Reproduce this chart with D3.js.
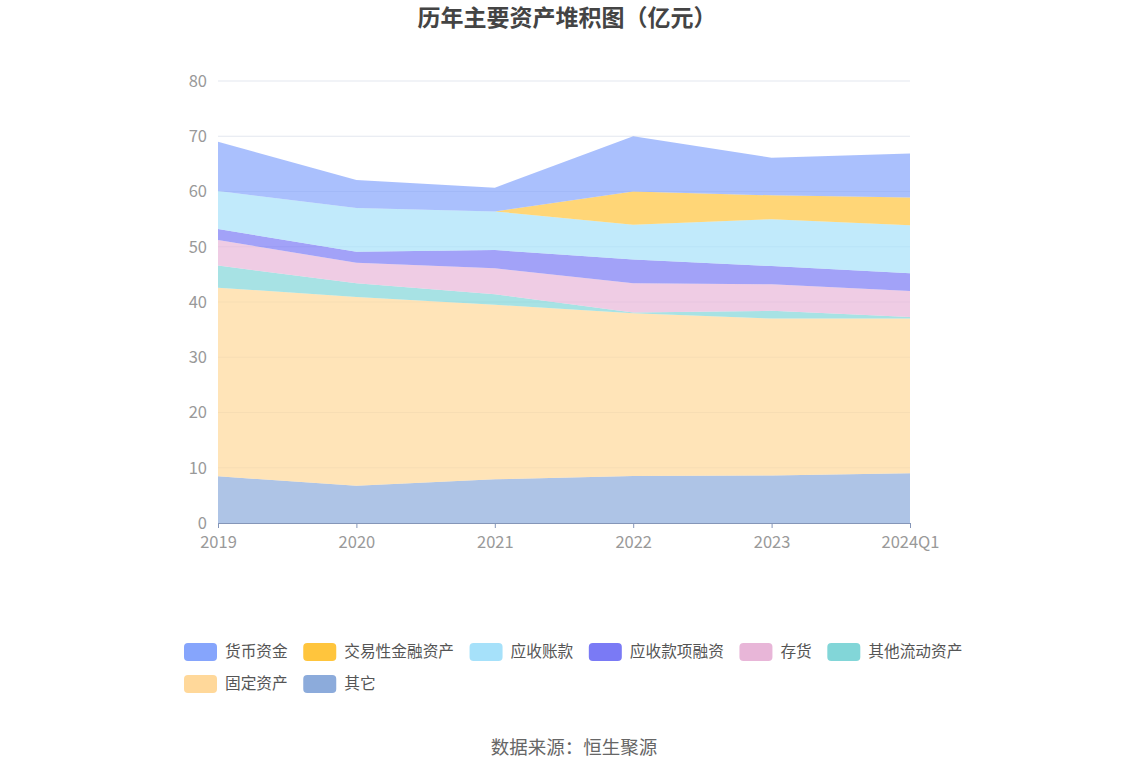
<!DOCTYPE html>
<html><head><meta charset="utf-8">
<script src="https://cdn.jsdelivr.net/npm/d3@7/dist/d3.min.js"></script>
<style>body{margin:0;background:#fff;font-family:"Noto Sans CJK SC","Noto Sans",sans-serif;}</style>
</head><body><svg id="c" width="1148" height="776"></svg>
<script>
const categories = ["2019","2020","2021","2022","2023","2024Q1"];
const seriesNames = ["货币资金","交易性金融资产","应收账款","应收款项融资","存货","其他流动资产","固定资产","其它"];
const colors = ["#86a5fc","#ffc53d","#a6e1fa","#7a7af5","#e8b6d8","#82d6d8","#ffd89a","#8cabdb"];
const 其它 = [8.45, 6.75, 7.9, 8.5, 8.6, 9.0];
const 固定资产 = [34.15, 34.15, 31.6, 29.45, 28.4, 28.0];
const 其他流动资产 = [4.0, 2.5, 1.9, 0.15, 1.4, 0.3];
const 存货 = [4.6, 3.7, 4.7, 5.3, 4.8, 4.7];
const 应收款项融资 = [2.0, 2.0, 3.3, 4.3, 3.3, 3.2];
const 应收账款 = [6.9, 7.9, 7.0, 6.3, 8.5, 8.7];
const 交易性金融资产 = [0, 0, 0, 6.0, 4.3, 5.0];
const 货币资金 = [8.9, 5.1, 4.3, 10.0, 6.8, 8.0];
const yTicks = [0,10,20,30,40,50,60,70,80];

const valuesByName = {"货币资金":货币资金,"交易性金融资产":交易性金融资产,"应收账款":应收账款,"应收款项融资":应收款项融资,"存货":存货,"其他流动资产":其他流动资产,"固定资产":固定资产,"其它":其它};
// stacking order bottom -> top
const stackOrder = ["其它","固定资产","其他流动资产","存货","应收款项融资","应收账款","交易性金融资产","货币资金"];
const rows = categories.map((c,i)=>{const r={cat:c}; seriesNames.forEach(n=>r[n]=valuesByName[n][i]); return r;});
const stacked = d3.stack().keys(stackOrder)(rows);

const svg = d3.select("#c");
const L=218, R=910, T=81, B=523;
const x = d3.scalePoint().domain(categories).range([L,R]);
const y = d3.scaleLinear().domain([0,80]).range([B,T]);

// grid
svg.append("g").selectAll("line").data(yTicks.filter(d=>d>0)).join("line")
  .attr("x1",L).attr("x2",R).attr("y1",d=>y(d)).attr("y2",d=>y(d))
  .attr("stroke","#e3e7ef").attr("stroke-width",1);

const area = d3.area().x((d,i)=>x(categories[i])).y0(d=>y(d[0])).y1(d=>y(d[1]));
svg.append("g").selectAll("path").data(stacked).join("path")
  .attr("d",area)
  .attr("fill",d=>colors[seriesNames.indexOf(d.key)])
  .attr("fill-opacity",0.7);

// y labels
svg.append("g").selectAll("text").data(yTicks).join("text")
  .attr("x",207).attr("y",d=>y(d)).attr("dy","0.35em").attr("text-anchor","end")
  .attr("fill","#999").attr("font-size",16.5).text(d=>d);

// x axis
const xa = svg.append("g").attr("transform",`translate(0,${B})`)
  .call(d3.axisBottom(x).tickSize(5).tickSizeOuter(0));
xa.select(".domain").attr("stroke","#8596b8");
xa.selectAll(".tick line").attr("stroke","#8596b8");
xa.selectAll(".tick text").attr("fill","#999").attr("font-size",16.5).attr("y",25).attr("dy","0")
  .attr("font-family","'Noto Sans CJK SC','Noto Sans',sans-serif");

// title
svg.append("text").attr("x",567).attr("y",26).attr("text-anchor","middle")
  .attr("font-size",23).attr("font-weight","bold").attr("fill","#444").text("历年主要资产堆积图（亿元）");

// legend
const leg = svg.append("g");
let lx=184, ly=643;
const rowStart=184, maxX=975;
seriesNames.forEach((n,i)=>{
  const tmp = leg.append("text").attr("font-size",15.7).text(n);
  const tw = tmp.node().getComputedTextLength();
  tmp.remove();
  const w = 33+8+tw;
  if (lx + w > maxX) { lx=rowStart; ly+=32; }
  leg.append("rect").attr("x",lx).attr("y",ly).attr("width",33).attr("height",18).attr("rx",4)
    .attr("fill",colors[i]);
  leg.append("text").attr("x",lx+41).attr("y",ly+9).attr("dy","0.35em").attr("font-size",15.7)
    .attr("fill","#555").text(n);
  lx += w + 15.5;
});

svg.append("text").attr("x",574).attr("y",748).attr("dy","0.35em").attr("text-anchor","middle")
  .attr("font-size",18.5).attr("fill","#666").text("数据来源：恒生聚源");
</script></body></html>
